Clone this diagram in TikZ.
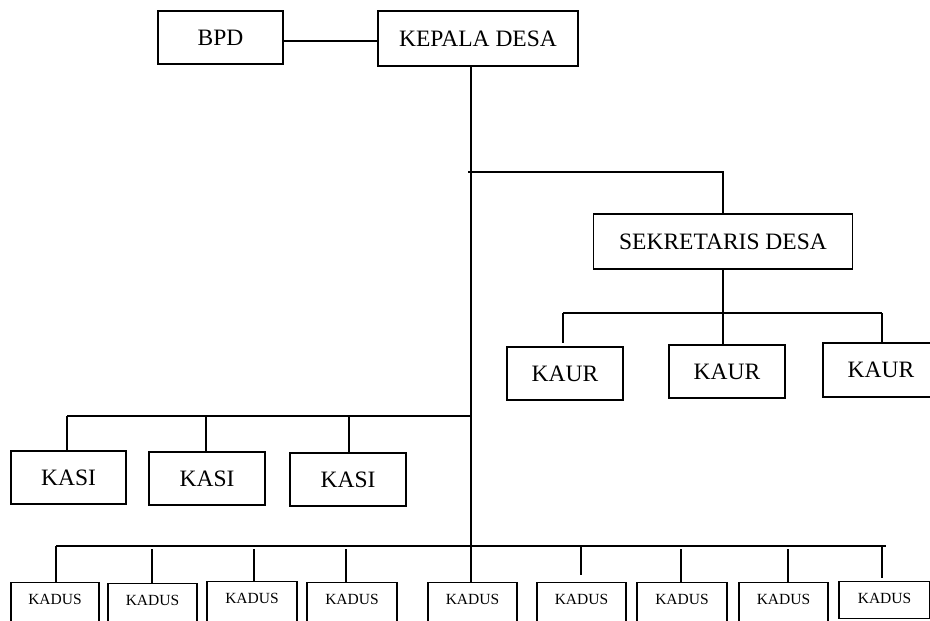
\documentclass[tikz,border=0pt]{standalone}
\usepackage{fontspec}
\setmainfont{Liberation Serif}
\begin{document}
\begin{tikzpicture}[x=1pt,y=-1pt,
  box/.style={draw,line width=1.3pt,inner sep=0pt,font=\fontsize{23.5}{27}\selectfont},
  kadus/.style={draw,line width=1.3pt,inner sep=0pt,anchor=north,minimum width=89pt,text height=22pt,text depth=36pt,font=\fontsize{15.5}{18}\selectfont},
  conn/.style={line width=1.4pt}]
\clip (0,0) rectangle (930,621);
\fill[white] (0,0) rectangle (930,621);
% top
\node[box,minimum width=125pt,minimum height=53pt] (bpd) at (220.5,37.5) {BPD};
\node[box,minimum width=200pt,minimum height=55pt] (kep) at (478,38.5) {KEPALA DESA};
\node[box,minimum width=259pt,minimum height=55pt] (sek) at (723,241.5) {SEKRETARIS DESA};
% kaur
\node[box,minimum width=116pt,minimum height=53pt] (kaur1) at (565,373.5) {KAUR};
\node[box,minimum width=116pt,minimum height=53pt] (kaur2) at (727,371.5) {KAUR};
\node[box,minimum width=116pt,minimum height=54pt] (kaur3) at (881,370) {KAUR};
% kasi
\node[box,minimum width=115pt,minimum height=53pt] (kasi1) at (68.5,477.5) {KASI};
\node[box,minimum width=116pt,minimum height=53pt] (kasi2) at (207,478.5) {KASI};
\node[box,minimum width=116pt,minimum height=53pt] (kasi3) at (348,479.5) {KASI};
% kadus
\node[kadus,minimum width=88pt] (k1) at (55,582) {KADUS};
\node[kadus] (k2) at (152.5,583) {KADUS};
\node[kadus,minimum width=90pt] (k3) at (252,581) {KADUS};
\node[kadus,minimum width=90pt] (k4) at (352,582) {KADUS};
\node[kadus] (k5) at (472.5,582) {KADUS};
\node[kadus] (k6) at (581.5,582) {KADUS};
\node[kadus,minimum width=90pt] (k7) at (682,582) {KADUS};
\node[kadus] (k8) at (783.5,582) {KADUS};
\node[kadus,minimum width=91pt,text depth=15pt] (k9) at (884.5,581) {KADUS};
% coordinates
\coordinate (m0) at (471,66);
\coordinate (m1) at (471,582);
\coordinate (sL) at (468,172);
\coordinate (sR) at (723,172);
\coordinate (kb) at (723,313);
\coordinate (kbL) at (563,313);
\coordinate (kbR) at (882,313);
\coordinate (kaur1t) at (563,343);
\coordinate (kaur3t) at (882,343);
\coordinate (ksL) at (67,416);
\coordinate (ksR) at (471,416);
\coordinate (ks1) at (67,416);
\coordinate (ks2) at (206,416);
\coordinate (ks3) at (349,416);
\coordinate (kdL) at (56,546);
\coordinate (kdR) at (886,546);
% connectors
\draw[conn] ([yshift=-3.5pt]bpd.east) -- ([yshift=-2.5pt]kep.west);
\draw[conn] (m0) -- (m1);
\draw[conn] (sL) -- (sR) -- (sek.north);
\draw[conn] (sek.south) -- (kb);
\draw[conn] (kbL) -- (kbR);
\draw[conn] (kbL) -- (kaur1t);
\draw[conn] (kb) -- (kaur2.north -| kb);
\draw[conn] (kbR) -- (kaur3t);
\draw[conn] (ksL) -- (ksR);
\draw[conn] (ks1) -- (kasi1.north -| ks1);
\draw[conn] (ks2) -- (kasi2.north -| ks2);
\draw[conn] (ks3) -- (kasi3.north -| ks3);
\draw[conn] (kdL) -- (kdR);
\draw[conn] (kdL) -- (k1.north -| kdL);
\draw[conn] (152,549) coordinate (d2) -- (k2.north -| d2);
\draw[conn] (254,549) coordinate (d3) -- (k3.north -| d3);
\draw[conn] (346,549) coordinate (d4) -- (k4.north -| d4);
\draw[conn] (581,546) coordinate (d6) -- (581,575) coordinate (e6);
\draw[conn] (681,549) coordinate (d7) -- (k7.north -| d7);
\draw[conn] (788,549) coordinate (d8) -- (k8.north -| d8);
\draw[conn] (882,546) coordinate (d9) -- (882,578) coordinate (e9);
\end{tikzpicture}
\end{document}
